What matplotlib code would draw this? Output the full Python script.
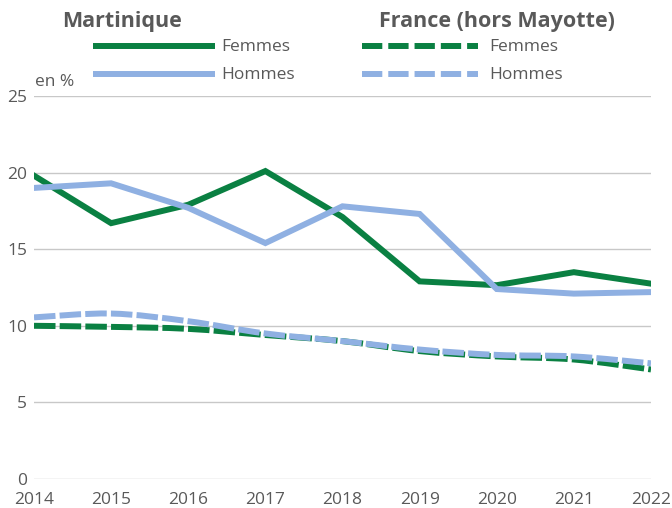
import matplotlib
matplotlib.use("Agg")
import matplotlib.pyplot as plt
from matplotlib.lines import Line2D
from matplotlib.path import Path
from matplotlib.patches import PathPatch

years = [2014, 2015, 2016, 2017, 2018, 2019, 2020, 2021, 2022]
mart_femmes = [19.8, 16.7, 17.9, 20.1, 17.1, 12.9, 12.65, 13.5, 12.75]
mart_hommes = [19.0, 19.3, 17.7, 15.4, 17.8, 17.3, 12.4, 12.1, 12.2]
fr_femmes = [10.0, 9.93, 9.8, 9.4, 9.0, 8.35, 8.0, 7.8, 7.15]
fr_hommes = [10.55, 10.8, 10.3, 9.5, 9.0, 8.45, 8.1, 8.0, 7.55]
y_ticks = [0, 5, 10, 15, 20, 25]

GREEN = "#0A8042"
BLUE = "#8FB0E2"
GRAY = "#595959"
GRID = "#C8C8C8"

plt.rcParams["font.family"] = ["Open Sans", "DejaVu Sans"]

W, H = 672, 508
fig = plt.figure(figsize=(W / 100, H / 100), dpi=100)
ax = fig.add_axes([34 / W, (H - 479) / H, (651 - 34) / W, (479 - 96) / H])

lw = 4.3
dash = (3.6, 0.7)


def smooth_path(xs, ys):
    """Smoothed line through the data points (Catmull-Rom as cubic Beziers)."""
    pts = list(zip(xs, ys))
    n = len(pts)
    verts = [pts[0]]
    codes = [Path.MOVETO]
    for i in range(n - 1):
        p0 = pts[max(i - 1, 0)]
        p1 = pts[i]
        p2 = pts[i + 1]
        p3 = pts[min(i + 2, n - 1)]
        c1 = (p1[0] + (p2[0] - p0[0]) / 6, p1[1] + (p2[1] - p0[1]) / 6)
        c2 = (p2[0] - (p3[0] - p1[0]) / 6, p2[1] - (p3[1] - p1[1]) / 6)
        verts += [c1, c2, p2]
        codes += [Path.CURVE4] * 3
    return Path(verts, codes)


for ys, col, z in [(fr_femmes, GREEN, 3), (fr_hommes, BLUE, 4)]:
    patch = PathPatch(smooth_path(years, ys), fill=False, edgecolor=col, lw=lw,
                      linestyle=(0, dash), capstyle="butt", zorder=z)
    ax.add_patch(patch)

ax.plot(years, mart_femmes, color=GREEN, lw=lw, solid_joinstyle="miter", zorder=5)
ax.plot(years, mart_hommes, color=BLUE, lw=lw, solid_joinstyle="miter", zorder=6)

ax.set_xlim(2014, 2022)
ax.set_ylim(0, 25)
ax.set_yticks(y_ticks)
ax.set_xticks(years)
ax.set_xticklabels([str(y) for y in years])
for s in ax.spines.values():
    s.set_visible(False)
ax.grid(axis="y", color=GRID, lw=1.0)
ax.set_axisbelow(True)
ax.tick_params(length=0, labelsize=12.5, labelcolor=GRAY)
ax.tick_params(axis="y", pad=5)
ax.tick_params(axis="x", pad=9)
for lab in ax.get_xticklabels():
    lab.set_clip_on(False)


def fx(x):
    return x / W


def fy(y):
    return (H - y) / H


fig.text(fx(35), fy(82), "en %", ha="left", va="center", fontsize=12.5, color=GRAY)

fig.text(fx(122), fy(22), "Martinique", ha="center", va="center",
         fontsize=15.5, fontweight="bold", color=GRAY)
fig.text(fx(497), fy(22), "France (hors Mayotte)", ha="center", va="center",
         fontsize=15.5, fontweight="bold", color=GRAY)

for yy, col, lab in [(46, GREEN, "Femmes"), (74, BLUE, "Hommes")]:
    fig.add_artist(Line2D([fx(93), fx(215)], [fy(yy), fy(yy)], color=col, lw=lw,
                          solid_capstyle="butt"))
    fig.text(fx(221), fy(yy + 1), lab, ha="left", va="center", fontsize=12.5, color=GRAY)
    fig.add_artist(Line2D([fx(362), fx(478)], [fy(yy), fy(yy)], color=col, lw=lw,
                          dashes=(3.4, 1.0), dash_capstyle="butt"))
    fig.text(fx(489), fy(yy + 1), lab, ha="left", va="center", fontsize=12.5, color=GRAY)

fig.savefig("out.png", dpi=100)
